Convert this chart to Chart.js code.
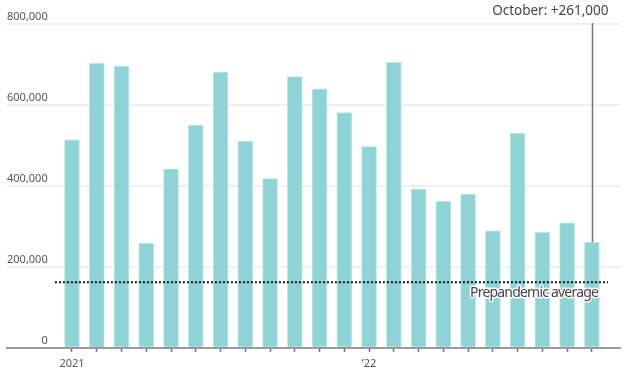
<!DOCTYPE html>
<html>
<head>
<meta charset="utf-8">
<script src="https://cdn.jsdelivr.net/npm/chart.js"></script>
<style>
  body { margin: 0; background: #fff; }
  canvas { display: block; }
</style>
</head>
<body>
<canvas id="myChart" width="624" height="373"></canvas>
<script>
'use strict';

// Monthly job gains, Jan 2021 - Oct 2022
const MONTHS = ['Jan 21', 'Feb 21', 'Mar 21', 'Apr 21', 'May 21', 'Jun 21', 'Jul 21', 'Aug 21', 'Sep 21', 'Oct 21', 'Nov 21', 'Dec 21',
                'Jan 22', 'Feb 22', 'Mar 22', 'Apr 22', 'May 22', 'Jun 22', 'Jul 22', 'Aug 22', 'Sep 22', 'Oct 22'];
const JOBS = [514000, 703000, 696000, 258000, 442000, 550000, 681000, 511000, 418000, 670000, 640000, 581000,
              497000, 705000, 392000, 362000, 380000, 289000, 530000, 285000, 309000, 261000];
const X_TICK_LABELS = ['2021', '', '', '', '', '', '', '', '', '', '', '',
                       '\u201922', '', '', '', '', '', '', '', '', ''];
const Y_TICKS = [0, 200000, 400000, 600000, 800000];
const PREPANDEMIC_AVG = 162000;
const CALLOUT = 'October: +261,000';
const AVG_LABEL = 'Prepandemic average';

const FONT = "'Noto Sans', sans-serif";

// callout line + text labels
const annotations = {
  id: 'annotations',
  afterDatasetsDraw(chart) {
    const ctx = chart.ctx;
    const x = chart.scales.x;
    const y = chart.scales.y;
    const last = JOBS.length - 1;
    const px = Math.round(x.getPixelForValue(last)) + 0.5;

    ctx.save();
    ctx.strokeStyle = '#777';
    ctx.lineWidth = 1.5;
    ctx.beginPath();
    ctx.moveTo(px, y.getPixelForValue(Y_TICKS[Y_TICKS.length - 1]) - 1);
    ctx.lineTo(px, y.getPixelForValue(JOBS[last]));
    ctx.stroke();

    ctx.font = '13.5px ' + FONT;
    ctx.fillStyle = '#444';
    ctx.textAlign = 'right';
    ctx.textBaseline = 'middle';
    ctx.fillText(CALLOUT, px + 16, 11);

    // average label with white halo (tighter spacing, the original font is narrow)
    const ax = x.getPixelForValue(21.25);
    const ay = y.getPixelForValue(PREPANDEMIC_AVG) + 11;
    ctx.font = '14px ' + FONT;
    ctx.letterSpacing = '-0.8px';
    ctx.lineWidth = 3;
    ctx.strokeStyle = '#fff';
    ctx.lineJoin = 'round';
    ctx.strokeText(AVG_LABEL, ax, ay);
    ctx.fillText(AVG_LABEL, ax, ay);
    ctx.restore();
  }
};

const barData = JOBS.map(function (v, i) { return { x: i, y: v }; });
const avgData = [{ x: -0.69, y: PREPANDEMIC_AVG }, { x: 21.65, y: PREPANDEMIC_AVG }];

new Chart(document.getElementById('myChart'), {
  type: 'bar',
  data: {
    datasets: [
      {
        type: 'line',
        data: avgData,
        borderColor: '#111',
        borderWidth: 2,
        borderDash: [2, 2],
        pointRadius: 0,
        fill: false,
        order: 0
      },
      {
        label: 'Jobs',
        data: barData,
        backgroundColor: '#8fd3d7',
        borderColor: '#bfe8e9',
        borderWidth: 1,
        barThickness: 15,
        order: 1
      }
    ]
  },
  options: {
    responsive: false,
    animation: false,
    layout: { padding: { top: 24, left: 7, right: 4, bottom: -2 } },
    plugins: {
      legend: { display: false },
      tooltip: { enabled: false }
    },
    scales: {
      x: {
        type: 'linear',
        min: -2.625,
        max: 22.135,
        offset: false,
        afterBuildTicks: function (scale) {
          scale.ticks = MONTHS.map(function (m, i) { return { value: i }; });
        },
        ticks: {
          autoSkip: false,
          maxRotation: 0,
          padding: 5,
          color: '#555',
          font: { family: FONT, size: 11 },
          callback: function (value) { return X_TICK_LABELS[value] || ''; }
        },
        grid: { offset: false, drawOnChartArea: false, drawTicks: true, tickLength: 4, tickColor: '#666', tickWidth: 1.5 },
        border: { display: true, color: '#999', width: 2 }
      },
      y: {
        min: 0,
        max: 800000,
        afterBuildTicks: function (scale) {
          scale.ticks = Y_TICKS.map(function (v) { return { value: v }; });
        },
        ticks: {
          mirror: true,
          crossAlign: 'far',
          padding: 0,
          labelOffset: -7,
          color: '#555',
          font: { family: FONT, size: 11 },
          callback: function (value) { return value.toLocaleString('en-US'); }
        },
        grid: { color: '#efefef', lineWidth: 2, drawTicks: false },
        border: { display: false }
      }
    }
  },
  plugins: [annotations]
});
</script>
</body>
</html>
